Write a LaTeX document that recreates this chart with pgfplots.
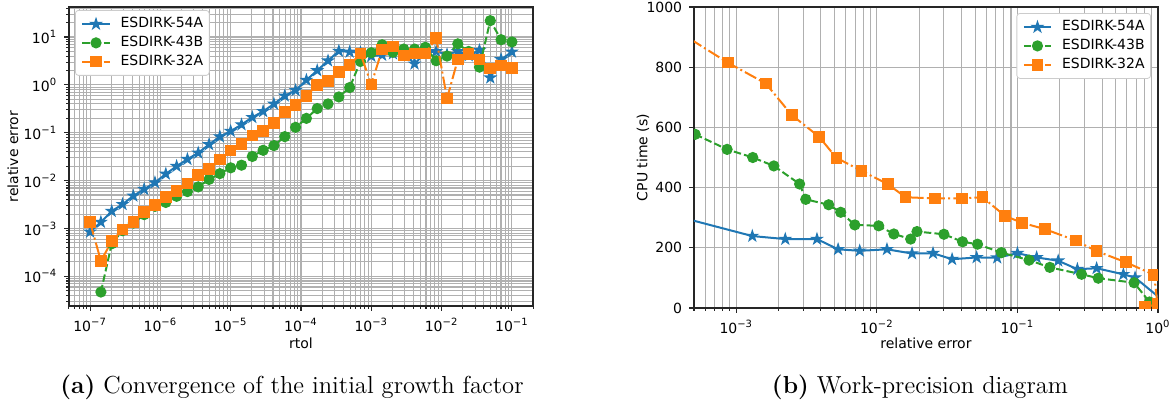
\documentclass[border=0pt]{standalone}
\usepackage{fontspec}
\usepackage{pgfplots}
\pgfplotsset{compat=1.18}
\newfontfamily\dv{DejaVu Sans}
\definecolor{cb}{HTML}{1F77B4}
\definecolor{co}{HTML}{FF7F0E}
\definecolor{cg}{HTML}{2CA02C}
\definecolor{gridc}{HTML}{B0B0B0}
\newcommand{\tp}[1]{10\textsuperscript{#1}}
\newcommand{\pf}{\dv\fontsize{7}{8}\selectfont}
\pgfdeclareplotmark{fstar}{%
  \pgfpathmoveto{\pgfpointpolar{90}{\pgfplotmarksize}}%
  \pgfpathlineto{\pgfpointpolar{126}{0.382\pgfplotmarksize}}%
  \pgfpathlineto{\pgfpointpolar{162}{\pgfplotmarksize}}%
  \pgfpathlineto{\pgfpointpolar{198}{0.382\pgfplotmarksize}}%
  \pgfpathlineto{\pgfpointpolar{234}{\pgfplotmarksize}}%
  \pgfpathlineto{\pgfpointpolar{270}{0.382\pgfplotmarksize}}%
  \pgfpathlineto{\pgfpointpolar{306}{\pgfplotmarksize}}%
  \pgfpathlineto{\pgfpointpolar{342}{0.382\pgfplotmarksize}}%
  \pgfpathlineto{\pgfpointpolar{18}{\pgfplotmarksize}}%
  \pgfpathlineto{\pgfpointpolar{54}{0.382\pgfplotmarksize}}%
  \pgfpathclose
  \pgfusepathqfillstroke}
\pgfplotsset{
  mpl/.style={
    scale only axis,
    axis line style={line width=0.55pt, black!85},
    tick align=outside, tick pos=left,
    major tick length=2.4pt, minor tick length=1.4pt,
    every tick/.style={black!85, line width=0.55pt},
    tick label style={font=\pf, black},
    grid style={gridc, line width=0.55pt},
    clip marker paths=true,
    legend cell align=left,
    legend style={font=\pf, draw=black!20, rounded corners=1.5pt,
      fill=white, inner xsep=3pt, inner ysep=3.2pt,
      row sep=2.1pt, column sep=5pt, nodes={inner xsep=0pt, inner ysep=0.3pt}},
    legend image code/.code={\draw[mark repeat=2,mark phase=2] plot coordinates {(0pt,0pt) (6.8pt,0pt) (13.6pt,0pt)};},
  },
  sb/.style={cb, line width=1pt, mark=fstar, mark size=2.7pt, mark options={solid, line width=0.6pt}},
  sg/.style={cg, line width=1pt, dash pattern=on 3.7pt off 1.6pt, mark=*, mark size=2.5pt, mark options={solid, line width=0.6pt}},
  so/.style={co, line width=1pt, dash pattern=on 6.4pt off 1.6pt on 1pt off 1.6pt, mark=square*, mark size=2.6pt, mark options={solid, line width=0.6pt}},
}
\begin{document}
\begin{tikzpicture}
\useasboundingbox (0,0) rectangle (587.5pt,-201.5pt);
% ---------------- (a)
\begin{axis}[mpl,
  at={(34.5pt,-3.5pt)}, anchor=north west,
  width=232pt, height=149.5pt,
  xmode=log, ymode=log,
  xmin=5.0119e-8, xmax=0.19953, ymin=2.4e-5, ymax=42.4,
  xtick={1e-8,1e-7,1e-6,1e-5,1e-4,1e-3,1e-2,1e-1,1},
  xticklabels={\tp{−8},\tp{−7},\tp{−6},\tp{−5},\tp{−4},\tp{−3},\tp{−2},\tp{−1},\tp{0}},
  ytick={1e-5,1e-4,1e-3,1e-2,1e-1,1,10,100},
  yticklabels={\tp{−5},\tp{−4},\tp{−3},\tp{−2},\tp{−1},\tp{0},\tp{1},\tp{2}},
  xmajorgrids, xminorgrids, ymajorgrids, yminorgrids,
  xlabel={rtol}, ylabel={relative error},
  every axis x label/.style={at={(axis description cs:0.5,-0.124)}, anchor=center, font=\pf},
  every axis y label/.style={at={(axis description cs:-0.1207,0.5)}, rotate=90, anchor=center, font=\pf},
  legend style={at={(axis description cs:0.013,0.99)}, anchor=north west},
]
\addplot[sb] coordinates {(1e-7,8.5e-4) (1.4251e-7,1.36e-3) (2.0309e-7,2.3e-3) (2.8943e-7,3.2e-3) (4.1246e-7,4.8e-3) (5.878e-7,6.6e-3) (8.3768e-7,9.1e-3) (1.1938e-6,1.38e-2) (1.7013e-6,2.0e-2) (2.4245e-6,2.8e-2) (3.4551e-6,3.8e-2) (4.9239e-6,5.7e-2) (7.017e-6,8.3e-2) (1e-5,0.108) (1.4251e-5,0.148) (2.0309e-5,0.21) (2.8943e-5,0.28) (4.1246e-5,0.40) (5.878e-5,0.59) (8.3768e-5,0.77) (1.1938e-4,1.26) (1.7013e-4,2.0) (2.4245e-4,3.2) (3.4551e-4,5.1) (4.9239e-4,4.9) (7.017e-4,4.7) (1e-3,4.0) (1.4251e-3,4.2) (2.0309e-3,4.5) (2.8943e-3,4.7) (4.1246e-3,2.76) (5.878e-3,4.7) (8.3768e-3,5.0) (1.1938e-2,4.3) (1.7013e-2,5.0) (2.4245e-2,4.1) (3.4551e-2,5.3) (4.9239e-2,1.41) (7.017e-2,3.4) (1e-1,4.9)};
\addlegendentry{ESDIRK-54A}
\addplot[sg] coordinates {(1.4251e-7,4.7e-5) (2.0309e-7,4.8e-4) (2.8943e-7,9.0e-4) (4.1246e-7,1.3e-3) (5.878e-7,1.95e-3) (8.3768e-7,2.9e-3) (1.1938e-6,3.5e-3) (1.7013e-6,4.7e-3) (2.4245e-6,5.9e-3) (3.4551e-6,7.4e-3) (4.9239e-6,1.06e-2) (7.017e-6,1.4e-2) (1e-5,1.85e-2) (1.4251e-5,2.1e-2) (2.0309e-5,3.2e-2) (2.8943e-5,4.3e-2) (4.1246e-5,5.4e-2) (5.878e-5,8.3e-2) (8.3768e-5,0.13) (1.1938e-4,0.20) (1.7013e-4,0.32) (2.4245e-4,0.40) (3.4551e-4,0.56) (4.9239e-4,0.88) (7.017e-4,3.1) (1e-3,4.7) (1.4251e-3,6.9) (2.0309e-3,4.8) (2.8943e-3,5.6) (4.1246e-3,5.6) (5.878e-3,6.1) (8.3768e-3,3.2) (1.1938e-2,4.0) (1.7013e-2,7.2) (2.4245e-2,5.0) (3.4551e-2,2.35) (4.9239e-2,22) (7.017e-2,8.8) (1e-1,7.9)};
\addlegendentry{ESDIRK-43B}
\addplot[so] coordinates {(1e-7,1.35e-3) (1.4251e-7,2.1e-4) (2.0309e-7,5.4e-4) (2.8943e-7,9.5e-4) (4.1246e-7,1.35e-3) (5.878e-7,2.2e-3) (8.3768e-7,3.1e-3) (1.1938e-6,4.5e-3) (1.7013e-6,6.0e-3) (2.4245e-6,8.7e-3) (3.4551e-6,1.3e-2) (4.9239e-6,1.73e-2) (7.017e-6,2.75e-2) (1e-5,4.3e-2) (1.4251e-5,5.9e-2) (2.0309e-5,8.7e-2) (2.8943e-5,0.11) (4.1246e-5,0.16) (5.878e-5,0.27) (8.3768e-5,0.38) (1.1938e-4,0.59) (1.7013e-4,1.0) (2.4245e-4,1.2) (3.4551e-4,1.86) (4.9239e-4,2.6) (7.017e-4,4.5) (1e-3,1.02) (1.4251e-3,5.5) (2.0309e-3,6.4) (2.8943e-3,4.1) (4.1246e-3,4.5) (5.878e-3,4.5) (8.3768e-3,9.5) (1.1938e-2,0.52) (1.7013e-2,3.4) (2.4245e-2,4.45) (3.4551e-2,3.4) (4.9239e-2,2.2) (7.017e-2,2.55) (1e-1,2.28)};
\addlegendentry{ESDIRK-32A}
\end{axis}
% ---------------- (b)
\begin{axis}[mpl,
  at={(347pt,-3.5pt)}, anchor=north west,
  width=232pt, height=150.5pt,
  xmode=log,
  xmin=5e-4, xmax=1, ymin=0, ymax=1000,
  xtick={1e-4,1e-3,1e-2,1e-1,1},
  xticklabels={\tp{−4},\tp{−3},\tp{−2},\tp{−1},\tp{0}},
  ytick={0,200,400,600,800,1000},
  yticklabels={0,200,400,600,800,1000},
  xmajorgrids, xminorgrids, ymajorgrids,
  xlabel={relative error}, ylabel={CPU time (s)},
  every axis x label/.style={at={(axis description cs:0.5,-0.116)}, anchor=center, font=\pf},
  every axis y label/.style={at={(axis description cs:-0.11,0.5)}, rotate=90, anchor=center, font=\pf},
  legend style={at={(axis description cs:0.985,0.98)}, anchor=north east},
]
\addplot[sb] coordinates {(3e-4,317) (1.3e-3,239) (2.23e-3,229) (3.75e-3,229) (5.3e-3,195) (7.55e-3,190) (1.18e-2,195) (1.78e-2,181) (2.51e-2,182) (3.43e-2,162) (5.13e-2,168) (7.18e-2,167) (0.1,182) (0.137,168) (0.195,157) (0.267,129) (0.366,132) (0.567,112) (0.687,101) (1.15,15)};
\addlegendentry{ESDIRK-54A}
\addplot[sg] coordinates {(5.1e-4,577) (8.6e-4,527) (1.31e-3,500) (1.85e-3,472) (2.82e-3,412) (3.12e-3,361) (4.54e-3,343) (5.53e-3,318) (6.97e-3,276) (1.03e-2,273) (1.32e-2,246) (1.74e-2,229) (1.93e-2,254) (3.0e-2,245) (4.07e-2,220) (5.2e-2,212) (7.7e-2,184) (0.121,159) (0.17,135) (0.286,112) (0.376,99) (0.676,84) (0.87,20)};
\addlegendentry{ESDIRK-43B}
\addplot[so] coordinates {(4.72e-4,893) (8.7e-4,815) (1.62e-3,746) (2.48e-3,641) (3.88e-3,569) (5.15e-3,499) (7.76e-3,456) (1.2e-2,411) (1.6e-2,368) (2.58e-2,364) (4.05e-2,364) (5.65e-2,368) (8.15e-2,306) (0.108,283) (0.157,262) (0.26,224) (0.366,189) (0.59,152) (0.94,110) (0.99,13) (0.81,4)};
\addlegendentry{ESDIRK-32A}
\end{axis}
\node[anchor=base, font=\fontsize{12.3}{14}\selectfont] at (146pt,-196.5pt) {\textbf{(a)} Convergence of the initial growth factor};
\node[anchor=base, font=\fontsize{12.3}{14}\selectfont] at (460pt,-196.5pt) {\textbf{(b)} Work-precision diagram};
\end{tikzpicture}
\end{document}
